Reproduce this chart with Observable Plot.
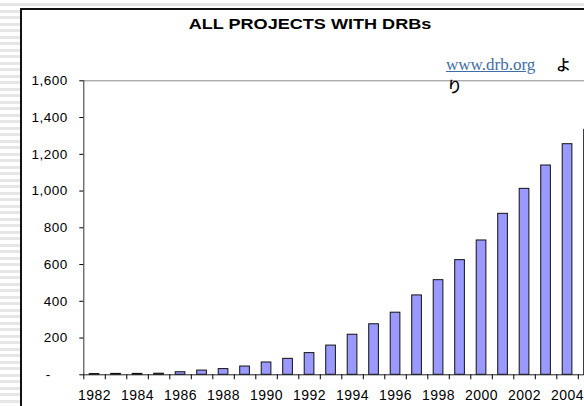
<!DOCTYPE html>
<html>
<head>
<meta charset="utf-8">
<script src="https://cdn.jsdelivr.net/npm/d3@7"></script>
<script src="https://cdn.jsdelivr.net/npm/@observablehq/plot@0.6"></script>
<style>
  html, body { margin: 0; padding: 0; background: #fff; }
  #page {
    position: relative; width: 584px; height: 406px; overflow: hidden;
    background: repeating-linear-gradient(to bottom, #ffffff 0px, #ffffff 3.5px, #e6e6e6 3.5px, #e6e6e6 6.5px);
  }
  #topband { position: absolute; left: 0; top: 0; width: 584px; height: 8px;
    background: linear-gradient(to bottom, #fff 0px, #fff 3px, #e4e4e4 3px, #e4e4e4 6px, #fff 6px); }
  #frame { position: absolute; left: 20px; top: 8px; width: 640px; height: 440px;
    background: #fff; border-left: 2px solid #111; border-top: 2px solid #111; }
  #chart { position: absolute; left: 0; top: 0; }
  .title { position: absolute; left: 310px; top: 16px; white-space: nowrap;
    font: bold 15.5px "Liberation Sans", Arial, sans-serif; line-height: 15.5px; color: #000;
    transform: translateX(-50%) scaleX(1.166); }
  .link { position: absolute; left: 446px; top: 55.7px; white-space: nowrap;
    font: 17px "Liberation Serif", "Times New Roman", serif; line-height: 17px;
    color: #3f6ea6; text-decoration: underline; }
  .kana { position: absolute; white-space: nowrap;
    font: 500 15px "Noto Sans CJK JP", sans-serif; line-height: 15px; color: #000; }
</style>
</head>
<body>
<div id="page">
  <div id="topband"></div>
  <div id="frame"></div>
  <div id="chart"></div>
  <div class="title">ALL PROJECTS WITH DRBs</div>
  <div class="link">www.drb.org</div>
  <div class="kana" style="left:556px; top:56px;">よ</div>
  <div class="kana" style="left:447px; top:78px;">り</div>
</div>
<script>
const years = [1982, 1983, 1984, 1985, 1986, 1987, 1988, 1989, 1990, 1991, 1992, 1993,
               1994, 1995, 1996, 1997, 1998, 1999, 2000, 2001, 2002, 2003, 2004, 2005];
const projects = [4, 5, 5, 6, 14, 23, 31, 45, 67, 87, 118, 159,
                  218, 275, 338, 432, 515, 624, 731, 876, 1012, 1139, 1255, 1333];
const yTicks = [0, 200, 400, 600, 800, 1000, 1200, 1400, 1600];
const xLabelYears = [1982, 1984, 1986, 1988, 1990, 1992, 1994, 1996, 1998, 2000, 2002, 2004];

const data = years.map((year, i) => ({year, value: projects[i]}));
const boundaries = years.map(y => y - 0.5).concat([years[years.length - 1] + 0.5]);
const yMax = yTicks[yTicks.length - 1];
const half = 0.225;

const fmt = d3.format(",");
const chart = Plot.plot({
  width: 600,
  height: 406,
  marginLeft: 83.3,
  marginRight: 0.7,
  marginTop: 80.3,
  marginBottom: 31.7,
  style: {background: "transparent", maxWidth: "none", overflow: "visible",
          fontFamily: "'Liberation Sans', Arial, sans-serif", fontSize: "13.5px",
          color: "#000", letterSpacing: "0.5px"},
  x: {domain: [boundaries[0], boundaries[boundaries.length - 1]], label: null},
  y: {domain: [0, yMax], label: null},
  marks: [
    Plot.ruleY([yMax], {stroke: "#8a8a8a", strokeWidth: 1}),
    Plot.rectY(data, {x1: d => d.year - half, x2: d => d.year + half, y1: 0, y2: "value",
                      fill: "#9999ff", stroke: "#111", strokeWidth: 1}),
    Plot.ruleY([0], {stroke: "#222", strokeWidth: 1}),
    Plot.ruleX([boundaries[0]], {stroke: "#333", strokeWidth: 1}),
    Plot.axisY({ticks: yTicks, tickSize: 4, tickPadding: 12, label: null,
                tickFormat: d => d === 0 ? "-\u00a0\u00a0\u00a0\u00a0" : fmt(d)}),
    Plot.axisX({ticks: boundaries, tickSize: 5, tickFormat: () => "", label: null}),
    Plot.axisX({ticks: xLabelYears, tickSize: 0, tickPadding: 15, label: null,
                fontSize: 14, tickFormat: d => String(d)})
  ]
});
document.getElementById("chart").appendChild(chart);
</script>
</body>
</html>
